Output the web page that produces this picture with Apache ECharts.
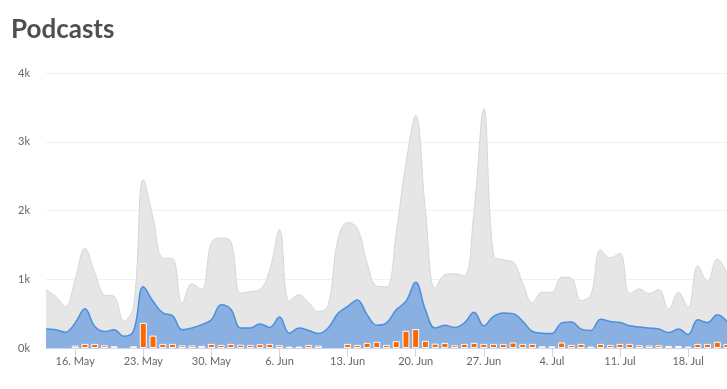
<!DOCTYPE html>
<html>
<head>
<meta charset="utf-8">
<script src="https://cdn.jsdelivr.net/npm/echarts@6/dist/echarts.min.js"></script>
<style>
html,body{margin:0;padding:0;background:#fff;}
#c{width:727px;height:389px;}
</style>
</head>
<body>
<div id="c"></div>
<script>
var days = ["13. May","14. May","15. May","16. May","17. May","18. May","19. May","20. May","21. May","22. May",
"23. May","24. May","25. May","26. May","27. May","28. May","29. May","30. May","31. May","1. Jun",
"2. Jun","3. Jun","4. Jun","5. Jun","6. Jun","7. Jun","8. Jun","9. Jun","10. Jun","11. Jun",
"12. Jun","13. Jun","14. Jun","15. Jun","16. Jun","17. Jun","18. Jun","19. Jun","20. Jun","21. Jun",
"22. Jun","23. Jun","24. Jun","25. Jun","26. Jun","27. Jun","28. Jun","29. Jun","30. Jun","1. Jul",
"2. Jul","3. Jul","4. Jul","5. Jul","6. Jul","7. Jul","8. Jul","9. Jul","10. Jul","11. Jul",
"12. Jul","13. Jul","14. Jul","15. Jul","16. Jul","17. Jul","18. Jul","19. Jul","20. Jul","21. Jul","22. Jul"];

var grayValues = [850,750,605,1000,1450,1100,775,750,390,600,2450,1900,1310,1300,650,935,850,1530,1600,1550,
800,820,850,1140,1720,680,775,660,530,620,1570,1825,1745,1240,900,890,1680,2690,3380,2000,
870,1065,1080,1050,2000,3480,1350,1280,1250,945,660,810,810,1030,1015,690,775,1430,1310,1380,
790,860,790,850,565,810,595,1195,970,1295,1095];

var blueValues = [275,265,230,365,570,315,240,265,170,250,890,680,510,470,265,290,340,410,630,565,
290,290,350,300,450,215,290,255,210,290,500,605,700,485,330,365,555,680,955,555,
290,330,300,365,520,325,460,510,500,390,240,215,210,365,380,275,255,420,385,370,
325,305,290,275,225,275,195,410,370,485,385];

var barValues = [0,0,0,35,60,60,40,25,0,25,365,180,60,60,38,38,32,60,45,60,
48,45,55,60,40,20,20,45,35,0,0,60,45,75,90,45,100,250,275,105,
63,75,40,60,75,60,60,60,80,60,60,25,25,80,45,60,20,60,45,60,
60,40,35,40,30,30,20,60,60,90,60];

var yTicks = [0,1000,2000,3000,4000];

var chart = echarts.init(document.getElementById('c'), null, {renderer:'canvas'});
function showTick(idx){ return (idx - 3) % 7 === 0; }
chart.setOption({
  animation:false,
  backgroundColor:'#fff',
  title:{
    text:'Podcasts', left:6, top:12,
    textStyle:{fontFamily:'Lato', fontWeight:'bold', fontSize:26, color:'#4f4f4f'}
  },
  grid:{left:46, right:0, top:73, bottom:41, containLabel:false},
  xAxis:{
    type:'category', data:days, boundaryGap:false,
    axisLine:{lineStyle:{color:'#ccd6eb', width:1}},
    axisTick:{show:true, length:9, interval:function(i){return showTick(i);}, lineStyle:{color:'#ccd6eb'}},
    axisLabel:{interval:function(i){return showTick(i);}, color:'#666666', fontFamily:'Lato', fontSize:11, margin:8},
    splitLine:{show:false}
  },
  yAxis:{
    type:'value', min:yTicks[0], max:yTicks[yTicks.length-1], interval:1000,
    axisLine:{show:false}, axisTick:{show:false},
    axisLabel:{color:'#666666', fontFamily:'Lato', fontSize:11, margin:16,
      formatter:function(v){return (v/1000)+'k';}},
    splitLine:{lineStyle:{color:'#f0f0f0', width:1}}
  },
  series:[
    {type:'line', data:grayValues, smooth:0.4, symbol:'none',
     lineStyle:{color:'#d6d6d6', width:1}, areaStyle:{color:'#e6e6e6', opacity:1}, z:1},
    {type:'line', data:blueValues, smooth:0.4, symbol:'none',
     lineStyle:{color:'#4a8fe0', width:1.5}, areaStyle:{color:'#89b0e0', opacity:1}, z:2},
    {type:'bar', data:barValues.map(function(v){return v === 0 ? null : v;}), barWidth:7,
     itemStyle:{color:'#ff6600', borderColor:'#ffffff', borderWidth:1}, z:3}
  ]
});
</script>
</body>
</html>
